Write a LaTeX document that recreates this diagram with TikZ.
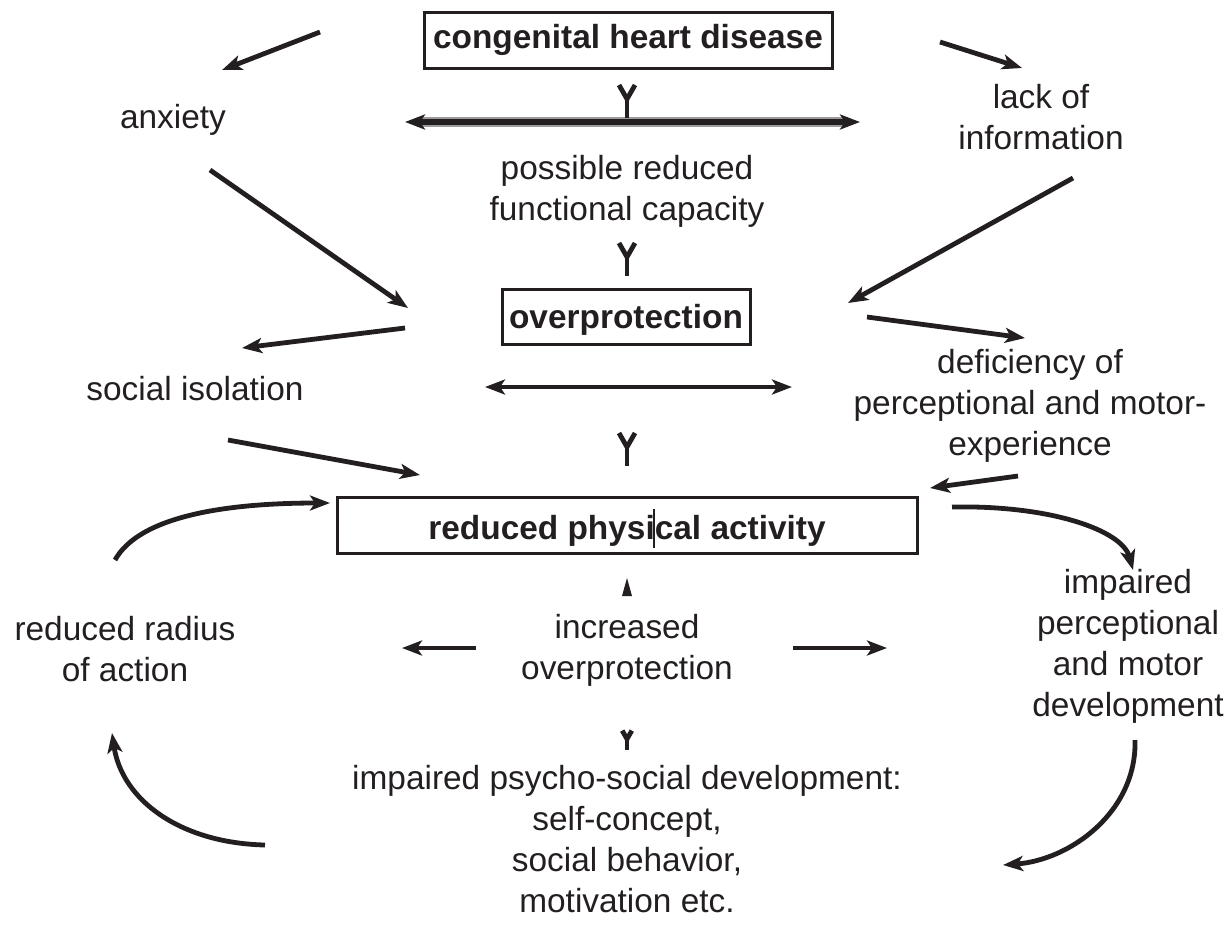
\documentclass[tikz,border=0pt]{standalone}
\usepackage{fontspec}
\setmainfont{Liberation Sans}
\usetikzlibrary{arrows.meta}
\definecolor{ink}{HTML}{231F20}
\begin{document}
\begin{tikzpicture}[x=0.5pt,y=-0.5pt,
  every node/.style={font=\fontsize{16.7}{20.5}\selectfont, text=ink, align=center, inner sep=0pt},
  box/.style={draw=ink, line width=1.5pt, font=\fontsize{16.7}{20.5}\selectfont\bfseries},
  conn/.style={draw=ink, line width=2.4pt, -{Stealth[length=10pt,width=7.5pt,inset=2.5pt]}},
  dconn/.style={draw=ink, line width=2.4pt, {Stealth[length=10pt,width=7.5pt,inset=2.5pt]}-{Stealth[length=10pt,width=7.5pt,inset=2.5pt]}},
  ydart/.pic={\draw[ink,line width=2.4pt,line join=miter] (-8,-19) -- (0,-5) -- (8,-19);
              \fill[ink] (-3,-9) -- (3,-9) -- (0,0) -- cycle;
              \draw[ink,line width=1.6pt] (0,-4) -- (0,14);}
]
\useasboundingbox (0,0) rectangle (1230,933);

% nodes
\node[box, minimum width=204pt, minimum height=28pt] (chd) at (628,40) {congenital heart disease};
\node (anx) at (173,120) {anxiety};
\node (lack) at (1041,117) {lack of\\information};
\node (prfc) at (627,191) {possible reduced\\functional capacity};
\node[box, minimum width=124pt, minimum height=27.5pt, text height=12.2pt, text depth=0.5pt] (op) at (626,317) {overprotection};
\node (si) at (195,389) {social isolation};
\node (def) at (1030,406) {deficiency of\\perceptional and motor-\\experience};
\node[box, minimum width=290pt, minimum height=28pt, text height=14.5pt, text depth=0pt] (rpa) at (627,525) {reduced physical activity};
\node (rra) at (125,649) {reduced radius\\of action};
\node (iop) at (627,650) {increased\\overprotection};
\node (ipmd) at (1128,646) {impaired\\perceptional\\and motor\\development};
\node (ipsd) at (627,839) {impaired psycho-social development:\\self-concept,\\social behavior,\\motivation etc.};

% coordinates
\coordinate (a1s) at (320,32);  \coordinate (a1e) at (222,70);
\coordinate (a2s) at (940,42);  \coordinate (a2e) at (1022,68);
\coordinate (a3s) at (210,170); \coordinate (a3e) at (408,308);
\coordinate (a4s) at (1073,178);\coordinate (a4e) at (848,303);
\coordinate (a5s) at (405,328); \coordinate (a5e) at (242,348);
\coordinate (a6s) at (867,317); \coordinate (a6e) at (1025,338);
\coordinate (a7s) at (228,440); \coordinate (a7e) at (420,475);
\coordinate (a8s) at (1018,476);\coordinate (a8e) at (930,488);
\coordinate (h1l) at (405,122); \coordinate (h1r) at (860,122);
\coordinate (h2l) at (485,387); \coordinate (h2r) at (792,387);
\coordinate (s1s) at (476,648); \coordinate (s1e) at (402,648);
\coordinate (s2s) at (793,648); \coordinate (s2e) at (887,648);
\coordinate (c1s) at (115,560); \coordinate (c1e) at (330,503);
\coordinate (c2s) at (952,507); \coordinate (c2e) at (1133,570);
\coordinate (c3s) at (265,845); \coordinate (c3e) at (112,733);
\coordinate (c4s) at (1135,740);\coordinate (c4e) at (1003,865);

% straight connectors
\draw[conn] (a1s) -- (a1e);
\draw[conn] (a2s) -- (a2e);
\draw[conn] (a3s) -- (a3e);
\draw[conn] (a4s) -- (a4e);
\draw[conn] (a5s) -- (a5e);
\draw[conn] (a6s) -- (a6e);
\draw[conn] (a7s) -- (a7e);
\draw[conn] (a8s) -- (a8e);
\draw[conn] (s1s) -- (s1e);
\draw[conn] (s2s) -- (s2e);

% double-headed lines
\draw[ink!45, line width=4.6pt, shorten <=6pt, shorten >=6pt] (h1l) -- (h1r);
\draw[dconn, line width=3pt] (h1l) -- (h1r);
\draw[dconn] (h2l) -- (h2r);

% curved connectors
\draw[conn] (c1s) .. controls (140,515) and (230,503) .. (c1e);
\draw[conn] (c2s) .. controls (1050,505) and (1122,530) .. (c2e);
\draw[conn] (c3s) .. controls (180,843) and (122,800) .. (c3e);
\draw[conn] (c4s) .. controls (1137,812) and (1070,860) .. (c4e);

% darts
\pic at (627,104) {ydart};
\pic at (627,262) {ydart};
\pic at (627,452) {ydart};
\pic[scale=0.6] at (627,742) {ydart};
\fill[ink] (627,578) -- (632,596) -- (622,596) -- cycle;

% cursor mark
\draw[ink, line width=1pt] (654,509) -- (654,548);
\end{tikzpicture}
\end{document}
